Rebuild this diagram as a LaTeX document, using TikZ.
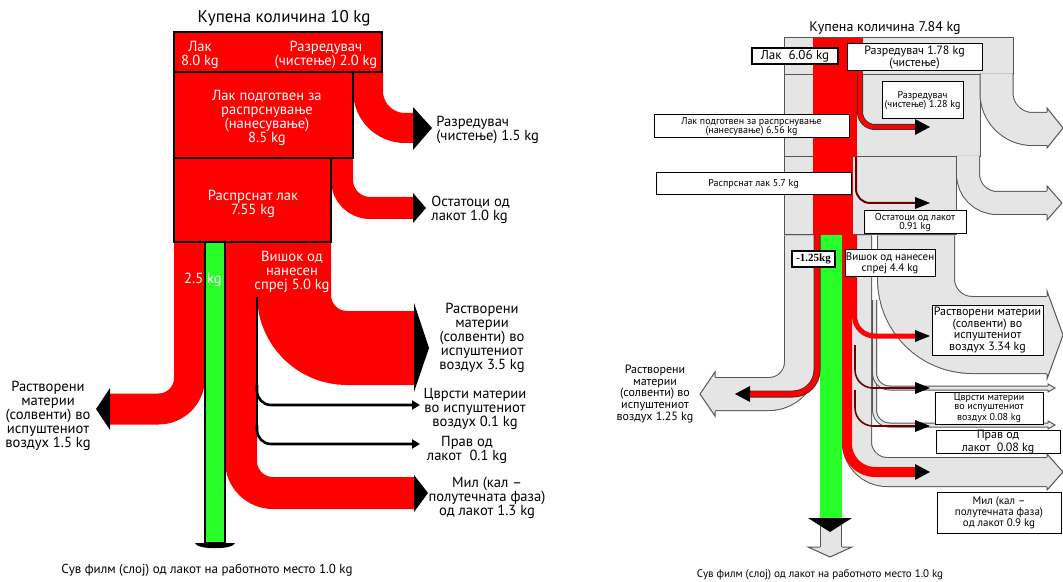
\documentclass[tikz,border=0pt]{standalone}
\usepackage{fontspec}
\setmainfont{PT Sans}
\newfontfamily\serifbold{Liberation Serif}
\usetikzlibrary{arrows.meta}

\definecolor{lred}{RGB}{255,0,0}
\definecolor{lgreen}{RGB}{40,255,40}
\definecolor{gfill}{RGB}{229,229,229}
\definecolor{gline}{RGB}{85,85,85}
\definecolor{dred}{RGB}{110,0,0}

\begin{document}
\begin{tikzpicture}[x=0.5pt,y=-0.5pt]

\tikzset{box/.style = {draw=black, line width=0.6pt, fill=lred},
         lab/.style = {font=\fontsize{7.3}{7}\selectfont, align=center, inner sep=0pt},
         wlab/.style = {lab, text=white},
         rlab/.style = {lab, align=left, anchor=west},
         gbox/.style = {fill=gfill, draw=gline, line width=0.5pt},
         gband/.style = {draw=gline, line width=0.5pt, double=gfill},
         tag/.style = {draw=black, fill=white, line width=0.5pt, align=center, inner sep=0pt}}

\useasboundingbox (0,0) rectangle (1063,582);

\draw[lred, line width=15pt, rounded corners=18.5pt] (368,72) -- (368,128) -- (413,128);
\draw[lred, line width=11pt, rounded corners=14pt] (342,158) -- (342,208) -- (413,208);
\draw[lred, line width=15.5pt, rounded corners=15.5pt] (189.5,242) -- (189.5,409) -- (110,409);
\draw[lred, line width=37pt, rounded corners=26.5pt] (294,242) -- (294,348) -- (414,348);
\draw[lred, line width=16pt, rounded corners=16pt] (241,242) -- (241,493) -- (414,493);

\draw[line width=1.3pt, -{Triangle[length=4pt,width=4.5pt]}, rounded corners=7pt] (257,385) -- (257,405) -- (420,405);
\draw[line width=1.3pt, -{Triangle[length=4pt,width=4.5pt]}, rounded corners=7pt] (257,425) -- (257,444) -- (420,444);
\draw[line width=1pt] (257,297) -- (257,432);

\fill (413,107) -- (432,128) -- (413,150) -- cycle;
\fill (413,193) -- (426,208) -- (413,223) -- cycle;
\fill (110,388) -- (96,409) -- (110,430) -- cycle;
\fill (414,303) -- (429,348) -- (414,392) -- cycle;
\fill (414,475) -- (428,493) -- (414,512) -- cycle;

\draw[box] (174,32) rectangle (382,72);
\draw[box] (174,72) rectangle (353,158);
\draw[box] (174,158) rectangle (331,242);

\filldraw[fill=lgreen, draw=black, line width=0.6pt] (205,242) rectangle (225,543);
\fill (195,543) -- (235,543) .. controls (233,550) and (197,550) .. (195,543) -- cycle;

\node[lab, font=\fontsize{8.5}{9}\selectfont] (kup1) at (284,18) {Купена количина 10 kg};
\node[wlab] (lak1) at (200,55) {Лак\\8.0 kg};
\node[wlab] (razr1) at (326,55) {Разредувач\\(чистење) 2.0 kg};
\node[wlab] (podg1) at (267,118) {Лак подготвен за\\распрснување\\(нанесување)\\8.5 kg};
\node[wlab] (rasp1) at (253,204) {Распрснат лак\\7.55 kg};
\node[wlab] (suvk1) at (203,280) {2.5 kg};
\node[wlab] (vish1) at (292,272) {Вишок од\\нанесен\\спреј 5.0 kg};
\node[rlab] (razo1) at (436,130) {Разредувач\\(чистење) 1.5 kg};
\node[rlab] (ost1) at (431,210) {Остатоци од\\лакот 1.0 kg};
\node[lab] (solv1) at (482,338) {Растворени\\материи\\(солвенти) во\\испуштениот\\воздух 3.5 kg};
\node[lab] (cvr1) at (475,409) {Цврсти материи\\во испуштениот\\воздух 0.1 kg};
\node[lab] (prav1) at (467,450) {Прав од\\лакот\ \ 0.1 kg};
\node[lab] (mil1) at (487,498) {Мил (кал –\\полутечната фаза)\\од лакот 1.3 kg};
\node[lab] (solvl1) at (48,416) {Растворени\\материи\\(солвенти) во\\испуштениот\\воздух 1.5 kg};
\node[lab, font=\fontsize{6.5}{7}\selectfont] (suv1) at (207,570) {Сув филм (слој) од лакот на работното место 1.0 kg};

\filldraw[gbox] (784,38) rectangle (1013,75);
\filldraw[gbox] (784,75) rectangle (980,157);
\filldraw[gbox] (784,157) rectangle (956,235);

\draw[gband, double distance=16pt, rounded corners=18pt] (996.5,73.5) -- (996.5,129) -- (1047,129);
\filldraw[gbox] (1047,112.5) -- (1047,108) -- (1063,128) -- (1047,148) -- (1047,145.5);
\draw[gband, double distance=11pt, rounded corners=14.5pt] (968,156) -- (968,203) -- (1047,203);
\filldraw[gbox] (1047,191) -- (1047,186) -- (1062,203) -- (1047,220) -- (1047,215);
\draw[gband, double distance=16pt, rounded corners=16pt] (801,235.5) -- (801,394) -- (715,394);
\filldraw[gbox] (715,377) -- (715,372) -- (700,394) -- (715,416) -- (715,411);
\draw[gband, double distance=14pt, rounded corners=15pt] (857,235.5) -- (857,472) -- (1047,472);
\filldraw[gbox] (1047,457) -- (1047,454) -- (1063,472) -- (1047,490) -- (1047,487);
\draw[gband, double distance=1.5pt, rounded corners=7.5pt] (874.5,300) -- (874.5,425) -- (1048,425);
\filldraw[gbox] (1048,423) -- (1048,421) -- (1055,425) -- (1048,429) -- (1048,427);
\draw[gband, double distance=1.5pt, rounded corners=7.5pt] (874.5,300) -- (874.5,388) -- (1048,388);
\filldraw[gbox] (1048,386) -- (1048,384) -- (1055,388) -- (1048,392) -- (1048,390);
\draw[gband, double distance=38pt, rounded corners=28pt] (916,235.5) -- (916,335) -- (1047,335);
\filldraw[gbox] (1047,296) -- (1047,291) -- (1063,335) -- (1047,379) -- (1047,374);
\draw[gband, double distance=10pt] (831,525) -- (831,547);
\filldraw[gbox] (820,547) -- (808,547) -- (830,557) -- (852,547) -- (842,547);

\fill[lgreen] (820,235) rectangle (842,520);
\fill (808,518) -- (852,518) -- (830,532) -- cycle;

\fill[lred] (813,38) rectangle (863,75);
\fill[lred] (813,75) rectangle (857,157);
\fill[lred] (813,157) rectangle (853,235);
\draw[draw=black!80, line width=0.4pt, double=lred, double distance=2.2pt, rounded corners=7.5pt] (860,75) -- (860,127) -- (915,127);
\draw[dred, line width=1pt, rounded corners=7pt] (856,157) -- (856,203) -- (915,203);
\draw[draw=black!80, line width=0.4pt, double=lred, double distance=2.7pt, rounded corners=12pt] (817,235) -- (817,394) -- (750,394);
\draw[lred, line width=2.5pt, rounded corners=10pt] (854.5,235) -- (854.5,336) -- (915,336);
\draw[lred, line width=5pt, rounded corners=14pt] (847,235) -- (847,472) -- (915,472);
\draw[dred, line width=0.8pt, rounded corners=9pt] (855,345) -- (855,388) -- (915,388);
\draw[dred, line width=0.8pt, rounded corners=9pt] (855,390) -- (855,426) -- (915,426);

\fill (915,119) -- (930,127) -- (915,135) -- cycle;
\fill (915,197) -- (930,203) -- (915,209) -- cycle;
\fill (750,386) -- (735,394) -- (750,402) -- cycle;
\fill (915,330) -- (930,336) -- (915,342) -- cycle;
\fill (915,382) -- (930,388) -- (915,394) -- cycle;
\fill (915,420) -- (930,426) -- (915,432) -- cycle;
\fill (915,464) -- (930,472) -- (915,480) -- cycle;

\node[lab, font=\fontsize{7}{8}\selectfont] (kup2) at (885,28) {Купена количина 7.84 kg};
\node[tag, minimum width=43pt, minimum height=8pt, line width=0.8pt, font=\fontsize{6.5}{7}\selectfont] (lak2) at (795,56) {Лак\ \ 6.06 kg};
\node[tag, minimum width=67.5pt, minimum height=13.5pt, font=\fontsize{6}{6}\selectfont] (razr2) at (914.5,57.5) {Разредувач 1.78 kg\\(чистење)};
\node[tag, minimum width=40.5pt, minimum height=18.5pt, font=\fontsize{5}{4.8}\selectfont] (razo2) at (922.5,100.5) {Разредувач\\(чистење) 1.28 kg};
\node[tag, minimum width=97.5pt, minimum height=11.5pt, font=\fontsize{5}{4.8}\selectfont] (podg2) at (751.5,126.5) {Лак подготвен за распрснување\\(нанесување) 6.56 kg};
\node[tag, minimum width=97.5pt, minimum height=11pt, font=\fontsize{5}{5}\selectfont] (rasp2) at (753.5,184) {Распрснат лак 5.7 kg};
\node[tag, minimum width=51pt, minimum height=11.5pt, font=\fontsize{5}{4.8}\selectfont] (ost2) at (915,222.5) {Остатоци од лакот\\0.91 kg};
\node[tag, minimum width=21.5pt, minimum height=8pt, line width=0.8pt, font=\serifbold\bfseries\fontsize{5.5}{6}\selectfont] (suvk2) at (813.5,259) {-1.25kg};
\node[tag, minimum width=45pt, minimum height=13.5pt, font=\fontsize{5.5}{5.5}\selectfont] (vish2) at (890,263.5) {Вишок од нанесен\\спреј 4.4 kg};
\node[tag, minimum width=55.5pt, minimum height=25pt, font=\fontsize{6}{5.8}\selectfont] (solv2) at (987.5,330) {Растворени материи\\(солвенти) во\\испуштениот\\воздух 3.34 kg};
\node[tag, minimum width=54pt, minimum height=16pt, font=\fontsize{5}{4.4}\selectfont] (cvr2) at (989,408) {Цврсти материи\\во испуштениот\\воздух 0.08 kg};
\node[tag, minimum width=62pt, minimum height=11pt, font=\fontsize{6}{5.2}\selectfont] (prav2) at (998,442) {Прав од\\лакот\ \ 0.08 kg};
\node[tag, minimum width=62pt, minimum height=20.5pt, font=\fontsize{5.5}{5.5}\selectfont] (mil2) at (999,512.5) {Мил (кал –\\полутечната фаза)\\од лакот 0.9 kg};
\node[lab, font=\fontsize{6}{5.8}\selectfont] (solvl2) at (655,394) {Растворени\\материи\\(солвенти) во\\испуштениот\\воздух 1.25 kg};
\node[lab, font=\fontsize{5.5}{6}\selectfont] (suv2) at (820,575) {Сув филм (слој) од лакот на работното место 1.0 kg};

\end{tikzpicture}
\end{document}
